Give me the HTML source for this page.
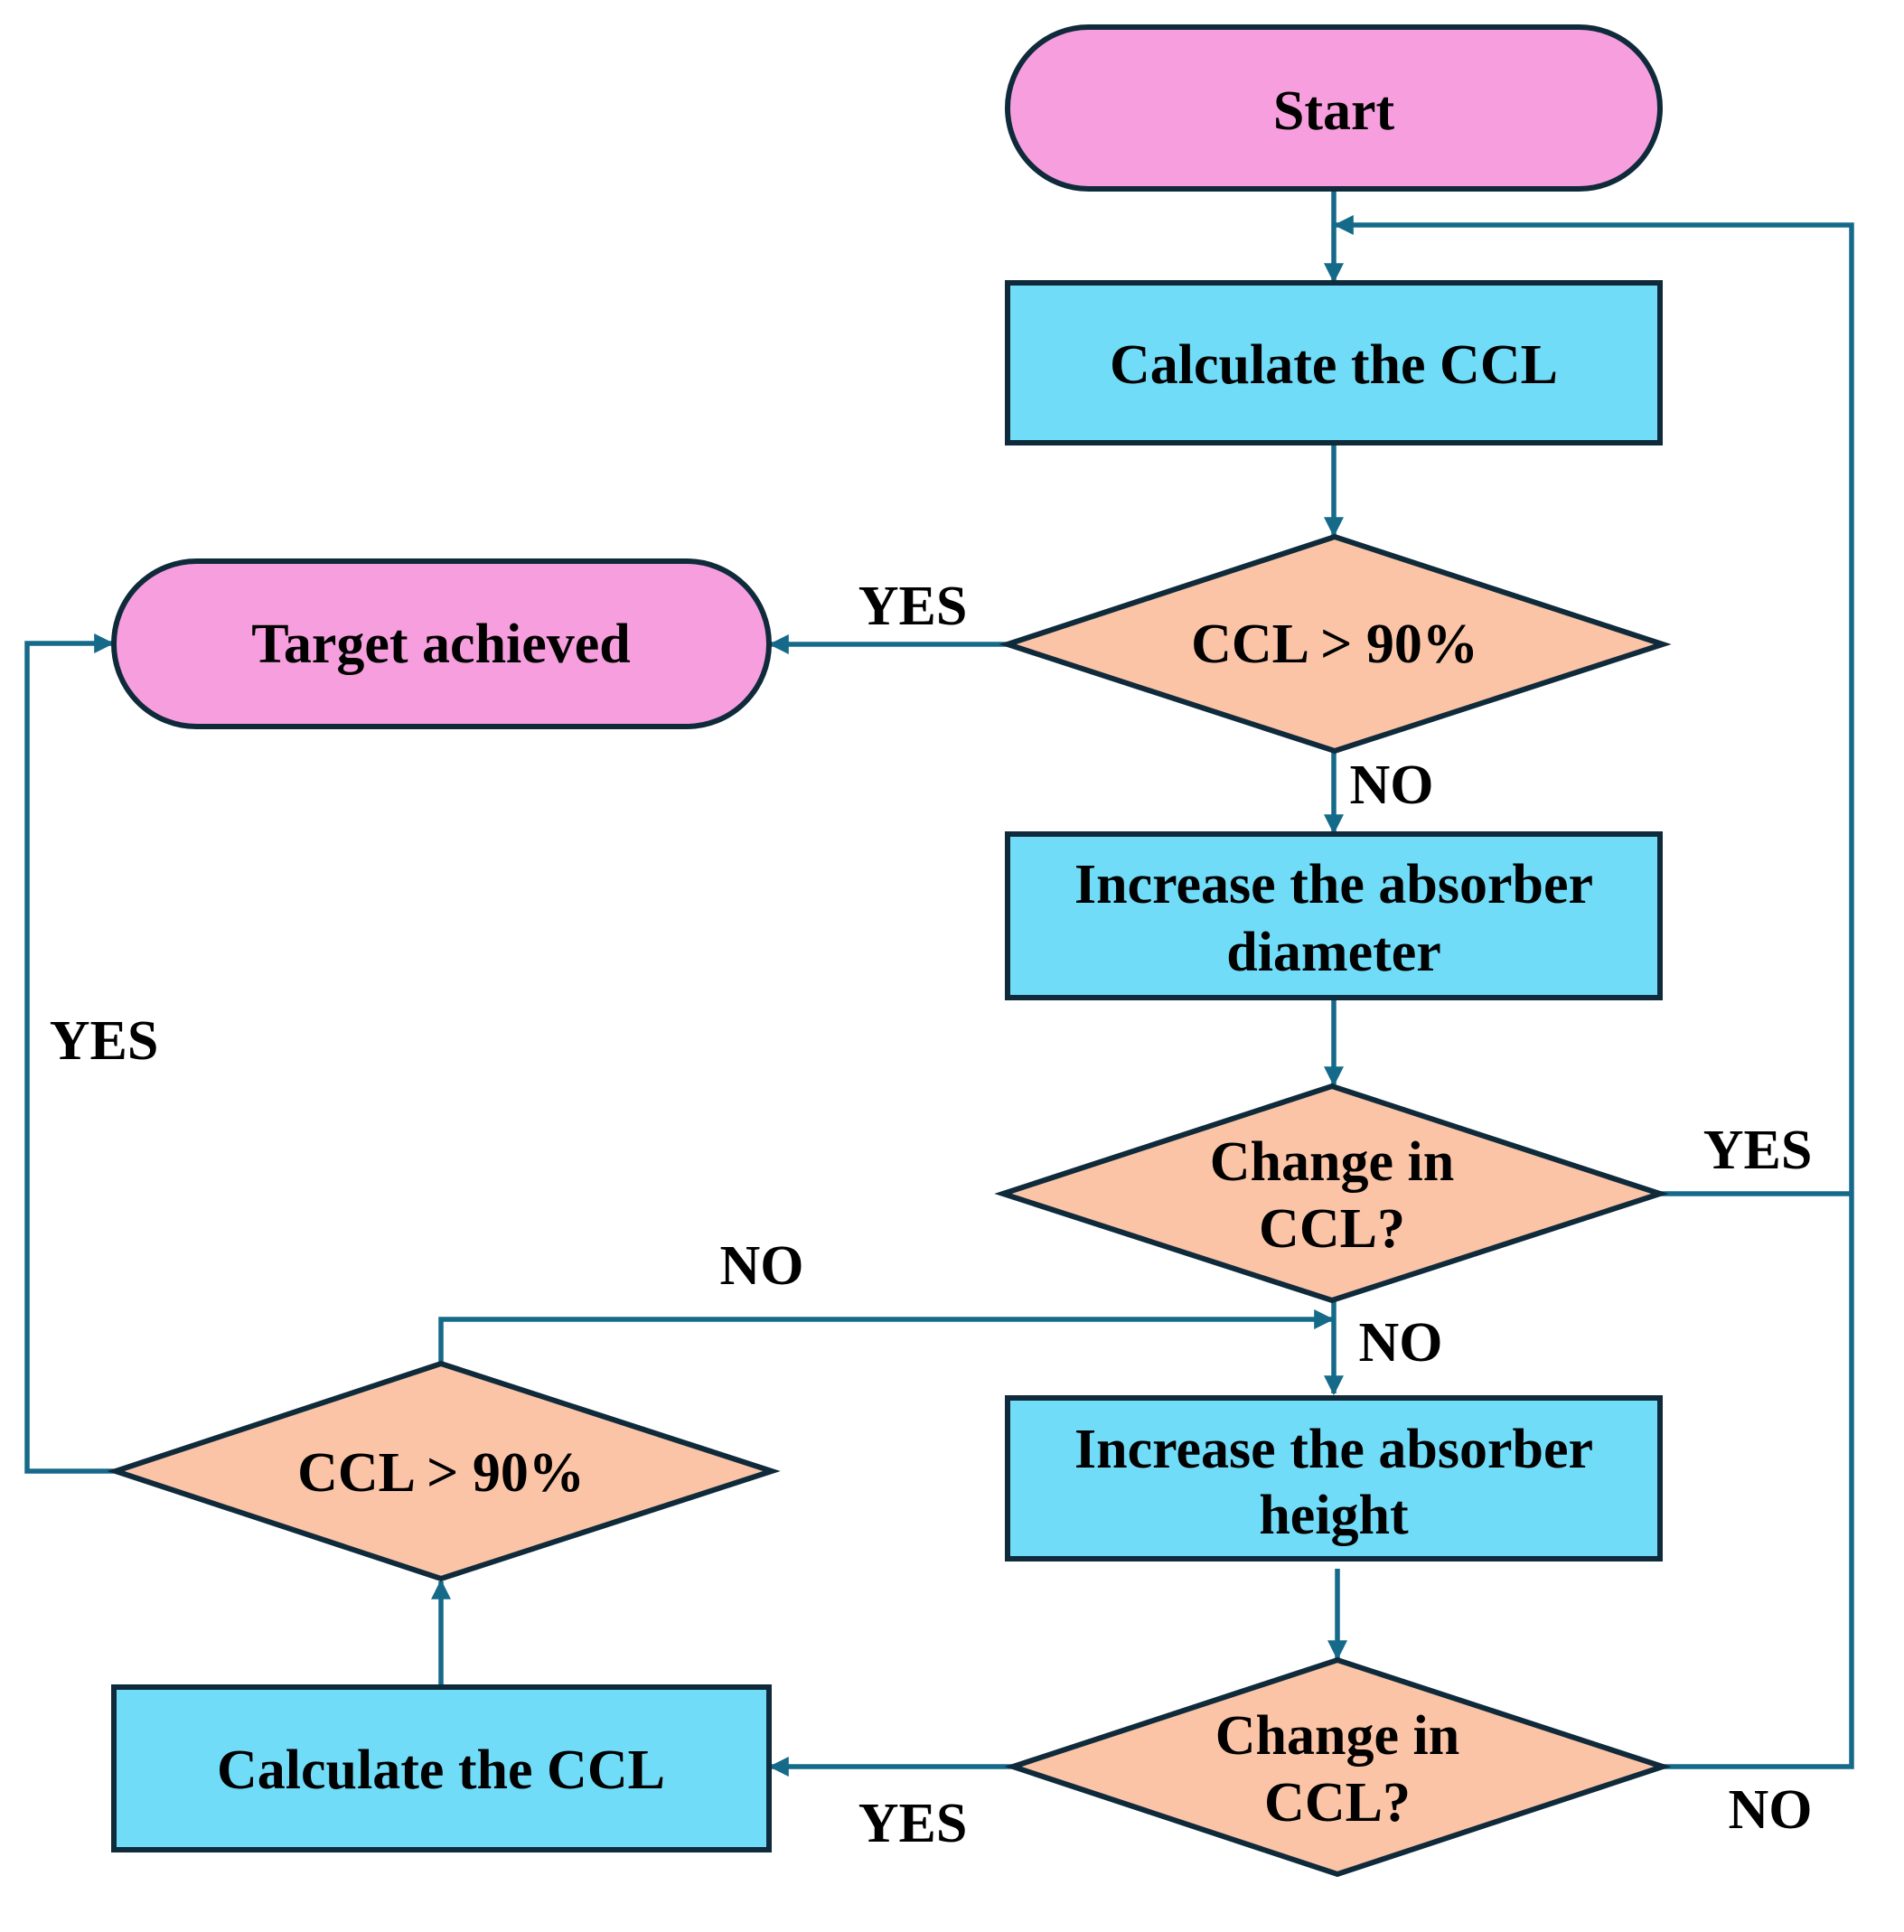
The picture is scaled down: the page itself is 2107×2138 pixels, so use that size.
<!DOCTYPE html>
<html><head><meta charset="utf-8"><style>html,body{margin:0;padding:0;background:#fff}svg{display:block}</style></head>
<body>
<svg width="2107" height="2138" viewBox="0 0 2107 2138" xmlns="http://www.w3.org/2000/svg">
<defs>
<marker id="a" viewBox="0 0 10 10" refX="9" refY="5" markerWidth="4" markerHeight="4" orient="auto-start-reverse" markerUnits="strokeWidth">
<path d="M0,0 L10,5 L0,10 z" fill="#156a8a"/></marker>
</defs>
<g fill="none" stroke="#156a8a" stroke-width="5.5">
<line x1="1476" y1="209" x2="1476" y2="311" marker-end="url(#a)"/>
<polyline points="2049,1321 2049,249 1478,249" marker-end="url(#a)"/>
<line x1="1476" y1="490" x2="1476" y2="592" marker-end="url(#a)"/>
<line x1="1115" y1="713" x2="853" y2="713" marker-end="url(#a)"/>
<line x1="1476" y1="831" x2="1476" y2="921" marker-end="url(#a)"/>
<line x1="1476" y1="1104" x2="1476" y2="1200" marker-end="url(#a)"/>
<line x1="1837" y1="1321" x2="2049" y2="1321"/>
<line x1="1476" y1="1439" x2="1476" y2="1542" marker-end="url(#a)"/>
<polyline points="488,1509 488,1460 1474,1460" marker-end="url(#a)"/>
<line x1="1480" y1="1736" x2="1480" y2="1835" marker-end="url(#a)"/>
<polyline points="1840,1955 2049,1955 2049,1321"/>
<line x1="1121" y1="1955" x2="853" y2="1955" marker-end="url(#a)"/>
<line x1="488" y1="1867" x2="488" y2="1750" marker-end="url(#a)"/>
<polyline points="128,1628 30,1628 30,712 124,712" marker-end="url(#a)"/>
</g>
<g stroke="#0f2a3a" stroke-width="6">
<rect x="1115" y="30" width="722" height="179" rx="89.5" fill="#f79fde"/>
<rect x="1115" y="313" width="722" height="177" fill="#70dcf8"/>
<polygon points="1115,713 1477,594 1840,713 1477,831" fill="#fbc4a6"/>
<rect x="126" y="621" width="725" height="183" rx="91.5" fill="#f79fde"/>
<rect x="1115" y="923" width="722" height="181" fill="#70dcf8"/>
<polygon points="1110,1321 1474,1202 1837,1321 1474,1439" fill="#fbc4a6"/>
<rect x="1115" y="1547" width="722" height="178" fill="#70dcf8"/>
<polygon points="1121,1955 1480,1837 1840,1955 1480,2074" fill="#fbc4a6"/>
<rect x="126" y="1867" width="725" height="180" fill="#70dcf8"/>
<polygon points="128,1628 488,1509 854,1628 488,1747" fill="#fbc4a6"/>
</g>
<g font-family="'Liberation Serif',serif" font-weight="bold" font-size="62" fill="#000" text-anchor="middle" dominant-baseline="central">
<text x="1476" y="123">Start</text>
<text x="1476" y="404">Calculate the CCL</text>
<text x="1477" y="713">CCL &gt; 90%</text>
<text x="488" y="713">Target achieved</text>
<text x="1476" y="979">Increase the absorber</text>
<text x="1476" y="1054">diameter</text>
<text x="1474" y="1286">Change in</text>
<text x="1474" y="1360">CCL?</text>
<text x="1476" y="1604">Increase the absorber</text>
<text x="1476" y="1677">height</text>
<text x="1480" y="1921">Change in</text>
<text x="1480" y="1995">CCL?</text>
<text x="488" y="1959">Calculate the CCL</text>
<text x="488" y="1630">CCL &gt; 90%</text>
<text x="1010" y="671">YES</text>
<text x="1540" y="869">NO</text>
<text x="1945" y="1273">YES</text>
<text x="1550" y="1486">NO</text>
<text x="843" y="1401">NO</text>
<text x="1959" y="2003">NO</text>
<text x="1010" y="2018">YES</text>
<text x="115" y="1152">YES</text>
</g>
</svg>
</body></html>
